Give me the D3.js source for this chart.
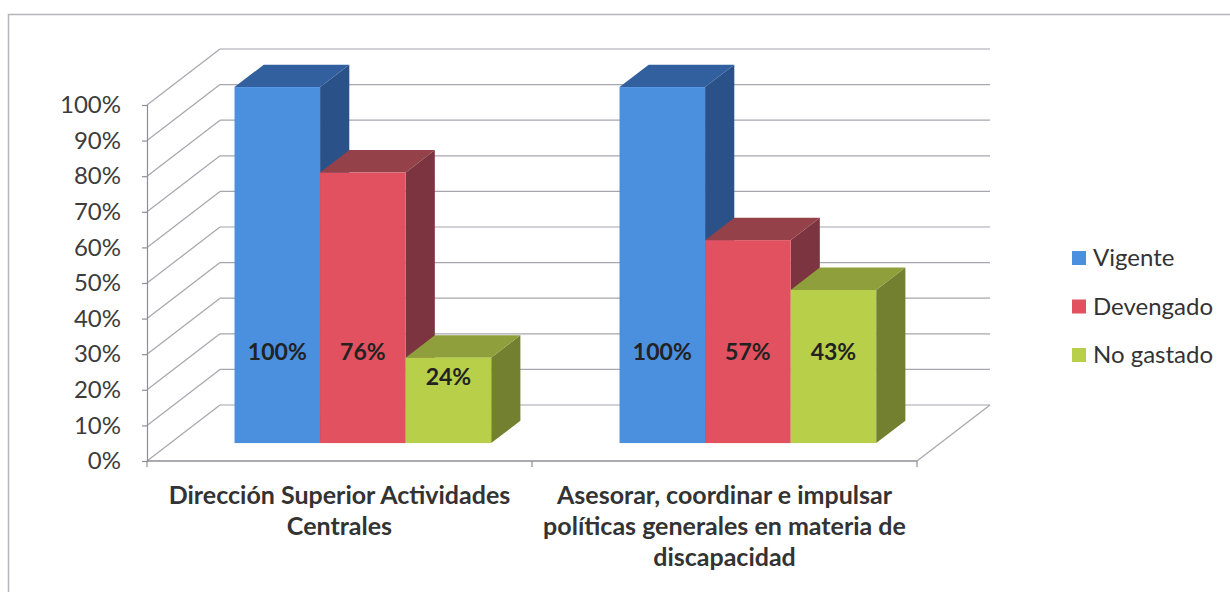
<!DOCTYPE html>
<html>
<head>
<meta charset="utf-8">
<script src="https://cdn.jsdelivr.net/npm/d3@7"></script>
<style>
  body { margin: 0; background: #fff; }
  svg { display: block; font-family: Lato, "Open Sans", sans-serif; }
</style>
</head>
<body>
<div id="chart"></div>
<script>
// Data
var categories = ["Dirección Superior Actividades Centrales",
    "Asesorar, coordinar e impulsar políticas generales en materia de discapacidad"];
var series = ["Vigente", "Devengado", "No gastado"];
var vigente = [1.00, 1.00],
    devengado = [0.76, 0.57],
    noGastado = [0.24, 0.43];
var yTicks = [0, 0.1, 0.2, 0.3, 0.4, 0.5, 0.6, 0.7, 0.8, 0.9, 1.0];

var values = [vigente, devengado, noGastado];

// Colours: front, top, side
var colors = [
    { front: "#4b8fdf", top: "#32609f", side: "#2b5189" },
    { front: "#e2515f", top: "#94414a", side: "#7c3540" },
    { front: "#b8cf4a", top: "#8f9f3c", side: "#72802f" }
];

var width = 1230, height = 592;

var svg = d3.select("#chart").append("svg")
    .attr("width", width)
    .attr("height", height);

// chart border (only top/left visible in the scan)
svg.append("path")
    .attr("d", "M8.5," + height + "V14.5H" + width)
    .attr("fill", "none")
    .attr("stroke", "#b4b4bc")
    .attr("stroke-width", 1.5);

// 3D geometry
var depthX = 73, depthY = -56;          // full floor depth
var barFront = 0.32, barDepth = 0.40;   // bar position in depth (fraction)

var x = d3.scaleBand()
    .domain(d3.range(categories.length))
    .range([147, 917]);

var xs = d3.scaleBand()
    .domain(d3.range(series.length))
    .range([0, x.bandwidth()])
    .paddingOuter(0.75);

var y = d3.scaleLinear()
    .domain([0, 1])
    .range([461, 105]);

var gridColor = "#a6a6ae";

// back wall gridlines
svg.append("g").selectAll("line")
    .data(yTicks)
    .enter().append("line")
    .attr("x1", x.range()[0] + depthX)
    .attr("x2", x.range()[1] + depthX)
    .attr("y1", function(d) { return y(d) + depthY; })
    .attr("y2", function(d) { return y(d) + depthY; })
    .attr("stroke", gridColor)
    .attr("stroke-width", 1.2);

// side wall diagonals
svg.append("g").selectAll("line")
    .data(yTicks)
    .enter().append("line")
    .attr("x1", x.range()[0])
    .attr("x2", x.range()[0] + depthX)
    .attr("y1", function(d) { return y(d); })
    .attr("y2", function(d) { return y(d) + depthY; })
    .attr("stroke", gridColor)
    .attr("stroke-width", 1.2);

// floor right edge
svg.append("line")
    .attr("x1", x.range()[1]).attr("y1", y(0))
    .attr("x2", x.range()[1] + depthX).attr("y2", y(0) + depthY)
    .attr("stroke", gridColor)
    .attr("stroke-width", 1.2);

// vertical axis
var yAxis = d3.axisLeft(y)
    .tickValues(yTicks)
    .tickFormat(d3.format(".0%"))
    .tickSize(5)
    .tickPadding(21);

var gy = svg.append("g")
    .attr("transform", "translate(" + x.range()[0] + ",0)")
    .call(yAxis);
gy.select(".domain").attr("stroke", "#8e8e96").attr("stroke-width", 1.2);
gy.selectAll(".tick line").attr("stroke", "#8e8e96").attr("stroke-width", 1.2);
gy.selectAll(".tick text")
    .attr("fill", "#3c3c3c")
    .style("font-size", "24px")
    .style("font-family", "Lato, sans-serif");

// category axis (front floor edge)
var gx = svg.append("g")
    .attr("transform", "translate(0," + y(0) + ")");
gx.append("line")
    .attr("x1", x.range()[0]).attr("x2", x.range()[1])
    .attr("stroke", "#8e8e96").attr("stroke-width", 1.5);
gx.selectAll("line.tick")
    .data(d3.range(categories.length + 1))
    .enter().append("line")
    .attr("class", "tick")
    .attr("x1", function(d) { return x.range()[0] + d * x.step(); })
    .attr("x2", function(d) { return x.range()[0] + d * x.step(); })
    .attr("y1", 0).attr("y2", 6)
    .attr("stroke", "#8e8e96").attr("stroke-width", 1.2);

gx.selectAll("text")
    .data(categories)
    .enter().append("text")
    .attr("x", function(d, i) { return x(i) + x.bandwidth() / 2; })
    .attr("y", 43)
    .attr("text-anchor", "middle")
    .attr("fill", "#333")
    .style("font-size", "25px")
    .style("font-weight", "bold")
    .text(function(d) { return d; })
    .call(wrap, 390);

// bars
var bars = [];
categories.forEach(function(c, ci) {
    series.forEach(function(s, si) {
        bars.push({ ci: ci, si: si, value: values[si][ci] });
    });
});

var offX0 = depthX * barFront, offY0 = depthY * barFront,
    bdx = depthX * barDepth, bdy = depthY * barDepth;

var gb = svg.append("g").selectAll("g.bar")
    .data(bars)
    .enter().append("g")
    .attr("class", "bar");

gb.each(function(d) {
    var g = d3.select(this),
        x0 = x(d.ci) + xs(d.si) + offX0,
        x1 = x0 + xs.bandwidth(),
        yT = y(d.value) + offY0,
        yB = y(0) + offY0,
        col = colors[d.si];

    g.append("path")
        .attr("d", "M" + x1 + "," + yT + "L" + x1 + "," + yB + "L" + (x1 + bdx) + "," + (yB + bdy)
            + "L" + (x1 + bdx) + "," + (yT + bdy) + "Z")
        .attr("fill", col.side);
    g.append("path")
        .attr("d", "M" + x0 + "," + yT + "L" + x1 + "," + yT + "L" + (x1 + bdx) + "," + (yT + bdy)
            + "L" + (x0 + bdx) + "," + (yT + bdy) + "Z")
        .attr("fill", col.top);
    g.append("rect")
        .attr("x", x0).attr("y", yT)
        .attr("width", xs.bandwidth()).attr("height", yB - yT)
        .attr("fill", col.front);
});

// data labels
gb.append("text")
    .attr("x", function(d) { return x(d.ci) + xs(d.si) + offX0 + xs.bandwidth() / 2; })
    .attr("y", function(d) { return y(Math.min(0.25, d.value * 0.75)) + offY0 + 6; })
    .attr("text-anchor", "middle")
    .attr("fill", "#222")
    .style("font-size", "23px")
    .style("font-weight", "bold")
    .text(function(d) { return d3.format(".0%")(d.value); });

// legend
var legend = svg.append("g")
    .attr("transform", "translate(1072,258)");
var li = legend.selectAll("g")
    .data(series)
    .enter().append("g")
    .attr("transform", function(d, i) { return "translate(0," + (i * 48.5) + ")"; });
li.append("rect")
    .attr("x", 0).attr("y", -7)
    .attr("width", 14).attr("height", 14)
    .attr("fill", function(d, i) { return colors[i].front; });
li.append("text")
    .attr("x", 21).attr("y", 8)
    .attr("fill", "#333")
    .style("font-size", "24px")
    .text(function(d) { return d; });

// Wrap text function
function wrap(text, width) {
    text.each(function() {
        var text = d3.select(this),
            words = text.text().split(/\s+/).reverse(),
            word,
            line = [],
            lineNumber = 0,
            lineHeight = 31,
            x = text.attr("x"),
            y = text.attr("y"),
            tspan = text.text(null).append("tspan").attr("x", x).attr("y", y);

        while (word = words.pop()) {
            line.push(word);
            tspan.text(line.join(" "));
            if (tspan.node().getComputedTextLength() > width) {
                line.pop();
                tspan.text(line.join(" "));
                line = [word];
                tspan = text.append("tspan").attr("x", x)
                    .attr("y", +y + (++lineNumber) * lineHeight).text(word);
            }
        }
    });
}
</script>
</body>
</html>
